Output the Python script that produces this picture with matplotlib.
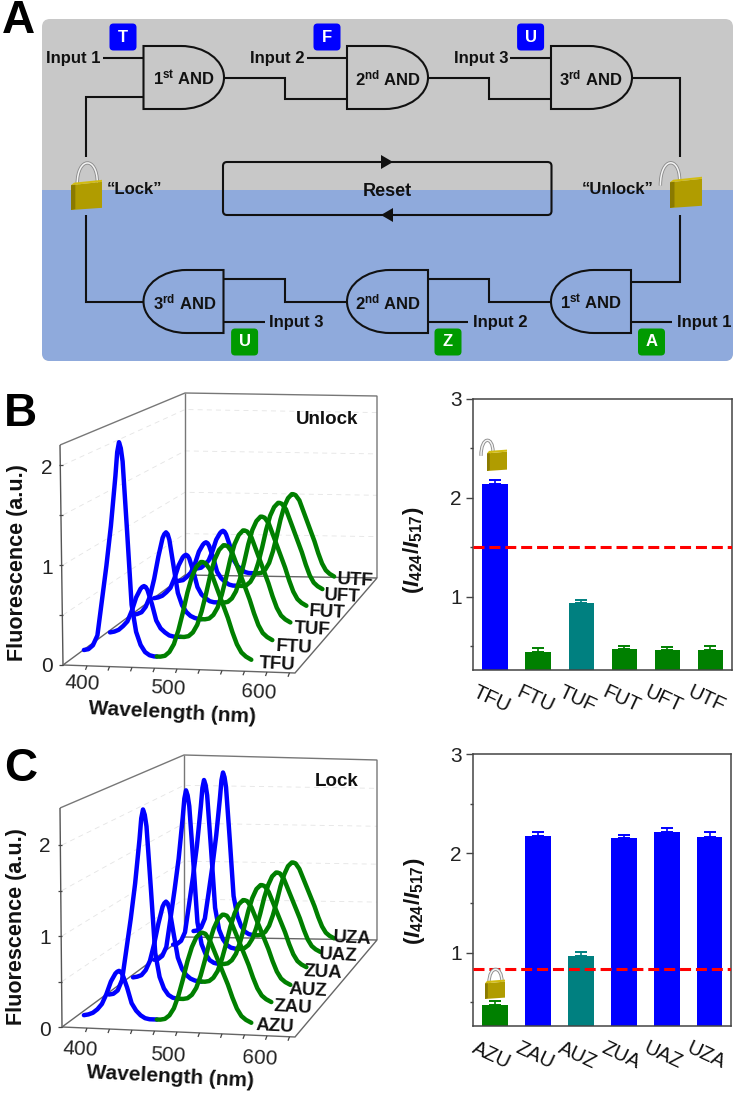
import matplotlib
matplotlib.use("Agg")
import matplotlib.pyplot as plt
from matplotlib.patches import FancyBboxPatch, PathPatch, Polygon, Rectangle
from matplotlib.path import Path
from matplotlib.transforms import Affine2D, ScaledTranslation

plt.rcParams['font.family'] = ['Liberation Sans', 'DejaVu Sans']
plt.rcParams['mathtext.fontset'] = 'custom'
plt.rcParams['mathtext.rm'] = 'Liberation Sans'
plt.rcParams['mathtext.bf'] = 'Liberation Sans:bold'
plt.rcParams['mathtext.it'] = 'Liberation Sans:bold:italic'

#### Data
# bar panels
labels_b = ['TFU', 'FTU', 'TUF', 'FUT', 'UFT', 'UTF']
ratio_b = [2.14, 0.447, 0.936, 0.47, 0.458, 0.465]
err_b = [0.04, 0.04, 0.027, 0.035, 0.037, 0.033]
colors_b = ['blue', 'green', 'teal', 'green', 'green', 'green']
thresh_b = 1.5

labels_c = ['AZU', 'ZAU', 'AUZ', 'ZUA', 'UAZ', 'UZA']
ratio_c = [0.475, 2.17, 0.97, 2.15, 2.21, 2.165]
err_c = [0.04, 0.043, 0.037, 0.03, 0.045, 0.045]
colors_c = ['green', 'blue', 'teal', 'blue', 'blue', 'blue']
thresh_c = 0.836

# spectra, split in the blue and the green part of each trace
wl_blue = [385, 390, 395, 400, 405, 410, 415, 420, 422, 424, 426, 428, 433, 438, 443, 448, 453, 458, 463, 466]
wl_green = [466, 470, 475, 480, 485, 490, 495, 500, 505, 510, 515, 517, 520, 525, 530, 535, 540,
            545, 550, 555, 560, 565, 571]

blue_TFU = [.15, .16, .20, .30, .65, 1.00, 1.40, 1.90, 2.14, 2.24, 2.18, 2.05, 1.35, .62, .35, .22, .15, .12, .11, .11]
blue_FTU = [.13, .14, .16, .20, .25, .36, .50, .59, .61, .62, .61, .58, .44, .27, .19, .15, .12, .11, .11, .11]
blue_TUF = [.13, .14, .16, .22, .33, .52, .76, .96, 1.00, 1.02, 1.00, .94, .66, .38, .25, .18, .14, .12, .11, .11]
blue_FUT = [.13, .14, .16, .20, .25, .36, .50, .59, .61, .62, .61, .58, .44, .27, .19, .15, .12, .11, .11, .11]
blue_UFT = [.13, .14, .15, .19, .24, .34, .48, .56, .58, .59, .58, .55, .42, .26, .19, .15, .12, .11, .11, .11]
blue_UTF = [.13, .14, .15, .19, .24, .35, .49, .57, .59, .60, .59, .56, .43, .26, .19, .15, .12, .11, .11, .11]
green_b = [.11, .11, .12, .16, .24, .38, .56, .76, .92, 1.02, 1.07, 1.07, 1.06, 1.00, .88, .76, .64,
           .52, .38, .26, .18, .14, .11]

blue_AZU = [.13, .14, .16, .20, .26, .37, .51, .60, .62, .63, .62, .59, .45, .28, .20, .15, .12, .11, .11, .11]
blue_ZAU = [.13, .14, .18, .30, .65, 1.00, 1.40, 1.90, 2.14, 2.24, 2.18, 2.05, 1.35, .62, .35, .22, .15, .12, .11, .11]
blue_AUZ = [.13, .14, .16, .22, .33, .53, .77, .97, 1.01, 1.03, 1.01, .95, .66, .38, .25, .18, .14, .12, .11, .11]
blue_ZUA = [.13, .14, .18, .29, .63, .98, 1.36, 1.86, 2.09, 2.19, 2.13, 2.00, 1.32, .60, .34, .22, .15, .12, .11, .11]
blue_UAZ = [.13, .14, .18, .29, .63, .98, 1.37, 1.87, 2.10, 2.20, 2.14, 2.01, 1.33, .61, .34, .22, .15, .12, .11, .11]
blue_UZA = [.13, .14, .18, .30, .64, .99, 1.39, 1.89, 2.12, 2.22, 2.16, 2.03, 1.34, .61, .35, .22, .15, .12, .11, .11]
green_c = [.11, .11, .12, .16, .24, .38, .56, .76, .92, 1.03, 1.08, 1.08, 1.07, 1.00, .88, .76, .64,
           .52, .38, .26, .18, .14, .11]

spectra_b = [blue_TFU, blue_FTU, blue_TUF, blue_FUT, blue_UFT, blue_UTF]
spectra_c = [blue_AZU, blue_ZAU, blue_AUZ, blue_ZUA, blue_UAZ, blue_UZA]

LINE = '#111111'
GOLD = '#b09c00'

fig = plt.figure(figsize=(7.36, 10.96), dpi=100)

# overlay in pixel coordinates for the schematic and the fake 3D boxes
ax = fig.add_axes([0, 0, 1, 1], zorder=5)
ax.set_xlim(0, 736)
ax.set_ylim(1096, 0)
ax.axis('off')


def poly(points, **kw):
    ax.add_patch(Polygon(points, closed=True, **kw))


def wire(xs, ys, lw=1.5, color=LINE):
    ax.plot(xs, ys, color=color, lw=lw, solid_capstyle='butt', solid_joinstyle='miter')


def and_gate(x0, x1, top, bot, flip=False):
    # flat side at x0, round side towards x1
    r = 43 if not flip else -43
    ym = (top + bot) / 2
    k = 0.5523
    hh = (bot - top) / 2
    xa = x1 - r
    verts = [(x0, top), (xa, top), (xa + k * r, top), (x1, ym - k * hh), (x1, ym),
             (x1, ym + k * hh), (xa + k * r, bot), (xa, bot), (x0, bot), (x0, top)]
    codes = [Path.MOVETO, Path.LINETO, Path.CURVE4, Path.CURVE4, Path.CURVE4,
             Path.CURVE4, Path.CURVE4, Path.CURVE4, Path.LINETO, Path.CLOSEPOLY]
    ax.add_patch(PathPatch(Path(verts, codes), fill=False, ec=LINE, lw=1.5))


def badge(x, y, letter, color):
    ax.add_patch(FancyBboxPatch((x - 10, y - 10), 20, 20, boxstyle='round,pad=3.5,rounding_size=4',
                                fc=color, ec='none'))
    ax.text(x, y, letter, color='white', fontsize=12, fontweight='bold', ha='center', va='center')


def padlock(x, y, w, h, opened=False, z=6):
    # x, y is the top left of the body
    tilt = 0.07 * w
    if opened:
        sx0, sx1, top = x - 0.3 * w, x + 0.3 * w, y - 0.85 * h
        sy0, sy1 = y + 0.2 * h, y
    else:
        sx0, sx1, top = x + 0.2 * w, x + 0.85 * w, y - 1.0 * h
        sy0, sy1 = y + 0.05 * h, y
    verts = [(sx0, sy0), (sx0, top), (sx1, top), (sx1, sy1)]
    codes = [Path.MOVETO, Path.CURVE4, Path.CURVE4, Path.CURVE4]
    ax.add_patch(PathPatch(Path(verts, codes), fill=False, ec='#8c8c8c', lw=2.4, zorder=z))
    ax.add_patch(PathPatch(Path(verts, codes), fill=False, ec='#f4f4f4', lw=1.1, zorder=z))
    poly([(x, y + tilt), (x + w, y - tilt + 1), (x + w, y + h - tilt), (x, y + h)], fc=GOLD, ec='none', zorder=z)
    poly([(x, y + tilt), (x + 0.14 * w, y + tilt - 1), (x + 0.14 * w, y + h - 1), (x, y + h)],
         fc='#8a7a00', ec='none', zorder=z)
    poly([(x, y + tilt), (x + 0.1 * w, y + tilt - 2.5), (x + w, y - tilt - 1), (x + w, y - tilt + 1)],
         fc='#d2bc10', ec='none', zorder=z)


#### Panel A
ax.add_patch(FancyBboxPatch((50, 27), 675, 326, boxstyle='round,pad=8,rounding_size=8',
                            fc='#c8c8c8', ec='none', zorder=0))
blue_bg = FancyBboxPatch((50, 27), 675, 326, boxstyle='round,pad=8,rounding_size=8',
                         fc='#8faadc', ec='none', zorder=0)
ax.add_patch(blue_bg)
blue_bg.set_clip_path(Rectangle((0, 190), 736, 300, transform=ax.transData))

ax.text(2, 21, 'A', fontsize=33, fontweight='bold', ha='left', va='center', color='black')
ax.text(4, 414, 'B', fontsize=33, fontweight='bold', ha='left', va='center', color='black')
ax.text(4, 769, 'C', fontsize=33, fontweight='bold', ha='left', va='center', color='black')

top_gates = [(143.5, 224), (347, 428), (551, 632)]
bot_gates = [(223.5, 143.5), (428, 347), (631, 551)]
for x0, x1 in top_gates:
    and_gate(x0, x1, 46, 109)
for x0, x1 in bot_gates:
    and_gate(x0, x1, 270, 333, flip=True)

wire([102.5, 143.5], [58, 58])
wire([307, 347], [58, 58])
wire([510, 551], [58, 58])
wire([224, 284.6, 284.6, 347], [78, 78, 99, 99])
wire([428, 489, 489, 551], [78, 78, 99, 99])
wire([632, 680, 680], [78, 78, 157])
wire([143.5, 86, 86], [97, 97, 157])
wire([86, 86, 143.5], [215, 302, 302])
wire([223.5, 284.6, 284.6, 347], [279, 279, 302, 302])
wire([428, 489, 489, 551], [279, 279, 302, 302])
wire([631, 680, 680], [282, 282, 215])
wire([223.5, 265], [322, 322])
wire([428, 468], [322, 322])
wire([631, 672], [322, 322])

for x, s in [(100, 'Input 1'), (304, 'Input 2'), (508, 'Input 3')]:
    ax.text(x, 58, s, fontsize=12, fontweight='bold', ha='right', va='center', color=LINE)
for x, s in [(269, 'Input 3'), (473, 'Input 2'), (677, 'Input 1')]:
    ax.text(x, 322, s, fontsize=12, fontweight='bold', ha='left', va='center', color=LINE)

gate_text = [(184.4, 78, r'1$^{\mathbf{st}}$ AND'), (388, 78, r'2$^{\mathbf{nd}}$ AND'), (591, 78, r'3$^{\mathbf{rd}}$ AND'),
             (184.4, 302, r'3$^{\mathbf{rd}}$ AND'), (388, 302, r'2$^{\mathbf{nd}}$ AND'), (591, 302, r'1$^{\mathbf{st}}$ AND')]
for x, y, s in gate_text:
    ax.text(x, y, s, fontsize=12, fontweight='bold', ha='center', va='center', color=LINE)

for x, y, s in [(123, 37, 'T'), (327, 37, 'F'), (530.6, 37, 'U')]:
    badge(x, y, s, '#0000ff')
for x, y, s in [(244.6, 342, 'U'), (448, 342, 'Z'), (651.5, 342, 'A')]:
    badge(x, y, s, '#009a00')

ax.add_patch(FancyBboxPatch((227, 166), 320.5, 45, boxstyle='round,pad=4,rounding_size=4',
                            fill=False, ec=LINE, lw=1.5))
poly([(381, 155), (393, 162), (381, 169)], fc=LINE, ec='none')
poly([(393, 208), (381, 215), (393, 222)], fc=LINE, ec='none')
ax.text(387, 191, 'Reset', fontsize=13, fontweight='bold', ha='center', va='center', color=LINE)
ax.text(135, 190, '\u201cLock\u201d', fontsize=12, fontweight='bold', ha='center', va='center', color=LINE)
ax.text(617.6, 190, '\u201cUnlock\u201d', fontsize=12, fontweight='bold', ha='center', va='center', color=LINE)
padlock(71, 183, 31, 27)
padlock(670, 180, 32, 28, opened=True)


#### Panels B and C: fake 3D waterfall built from per-trace transforms
def waterfall(spectra, green, names, unit, base_y, corners, peak_x, base_ys, scales, label_pos,
              xlab_pos, xticks_pos, ylab_pos, ytick_pos, word, word_pos):
    fl, fr, bl, br, tl, tbl, tbr = corners
    back_unit = (bl[1] - tbl[1]) / 2.4 if unit < 95 else (bl[1] - tbl[1]) / 2.2

    # faint grid on the walls
    for f in [0.5, 1, 1.5, 2]:
        wire([fl[0], bl[0], br[0]], [fl[1] - unit * f, bl[1] - back_unit * f, br[1] - back_unit * f],
             lw=0.6, color='#e4e4e4')
        ax.lines[-1].set_linestyle((0, (6, 5)))

    # box
    wire([tl[0], tbl[0], tbr[0], br[0]], [tl[1], tbl[1], tbr[1], br[1]], lw=1.0, color='#777777')
    wire([tbl[0], bl[0]], [tbl[1], bl[1]], lw=1.0, color='#777777')
    wire([tl[0], fl[0]], [tl[1], fl[1]], lw=1.0, color='#555555')
    wire([fl[0], fr[0], br[0], bl[0], fl[0]], [fl[1], fr[1], br[1], bl[1], fl[1]], lw=1.0, color='#666666')

    # axis ticks
    for f in [0, 0.5, 1, 1.5, 2]:
        wire([fl[0] - 4, fl[0]], [fl[1] - unit * f, fl[1] - unit * f], lw=0.9, color='#444444')
    slope = (fr[1] - fl[1]) / (fr[0] - fl[0])
    for w in range(400, 626, 25):
        x = 87 + (w - 400) * 0.9
        y = fl[1] + (x - fl[0]) * slope
        wire([x, x - 1.5], [y, y + 4], lw=0.9, color='#444444')

    # traces, back one first
    for i in range(5, -1, -1):
        s = scales[i]
        tr = Affine2D.from_values(0.9 * s, 0.031, 0, -unit * s,
                                  peak_x[i] - 0.9 * s * 424, base_ys[i] - 0.031 * 385) + ax.transData
        ax.plot(wl_blue, spectra[i], color='#0000ff', lw=3.2, transform=tr, solid_capstyle='round',
                solid_joinstyle='round', zorder=3)
        ax.plot(wl_green, green, color='#007f00', lw=3.2, transform=tr, solid_capstyle='round',
                solid_joinstyle='round', zorder=3)

    for (x, y), s in zip(label_pos, names):
        ax.text(x, y, s, fontsize=13.5, fontweight='bold', ha='center', va='center', rotation=-3,
                color='#111111', zorder=4)
    for (x, y), s in zip(xticks_pos, ['400', '500', '600']):
        ax.text(x, y, s, fontsize=15, ha='center', va='center', rotation=-3, color='#222222')
    for (x, y), s in zip(ytick_pos, ['0', '1', '2']):
        ax.text(x, y, s, fontsize=15, ha='center', va='center', color='#222222')
    ax.text(xlab_pos[0], xlab_pos[1], 'Wavelength (nm)', fontsize=15, fontweight='bold', ha='center',
            va='center', rotation=-3, color='#111111')
    ax.text(ylab_pos[0], ylab_pos[1], 'Fluorescence (a.u.)', fontsize=15.5, fontweight='bold', ha='center',
            va='center', rotation=90, color='#111111')
    ax.text(word_pos[0], word_pos[1], word, fontsize=13.5, fontweight='bold', ha='center', va='center',
            color='#111111')


waterfall(spectra_b, green_b, labels_b, 100, 665,
          [(63, 665), (295, 673), (185, 575), (377, 578), (60, 445), (185, 393), (377, 396)],
          [119, 144, 166, 186, 206, 223], [665, 645, 627, 610, 593, 580], [1, .97, .94, .91, .88, .84],
          [(277, 664), (294, 647), (312, 629), (327, 612), (342, 596), (355, 580)],
          (172, 713), [(82, 683), (168, 688), (259, 692)], (18, 563),
          [(47, 667), (47, 568), (47, 468)], 'Unlock', (327, 419))

waterfall(spectra_c, green_c, labels_c, 91, 1027,
          [(62, 1027), (295, 1037), (184, 937), (377, 940), (60, 808), (184, 755), (377, 760)],
          [119, 143, 166, 186, 204, 223], [1027, 1006, 988.5, 970.5, 955, 941], [1, .97, .94, .91, .88, .84],
          [(275, 1027), (293, 1008), (308, 991), (323, 973), (338, 956), (352, 939)],
          (170, 1077), [(80, 1049), (168, 1055), (260, 1058)], (17, 927),
          [(45, 1030), (45, 939), (45, 847)], 'Lock', (337, 782))


#### Bar panels
def bar_panel(rect, labels, vals, errs, colors, thresh):
    a = fig.add_axes(rect)
    pos = list(range(len(labels)))
    a.bar(pos, vals, width=0.6, color=colors)
    for p, v, e, c in zip(pos, vals, errs, colors):
        a.errorbar(p, v, yerr=[[0], [e]], color=c, capsize=4, elinewidth=1.2, capthick=1.4)
    a.axhline(thresh, color='red', lw=2.2, ls=(0, (3.6, 1.6)), zorder=4)
    a.set_xlim(-0.52, 5.5)
    a.set_ylim(0.26, 3)
    a.set_yticks([1, 2, 3])
    a.set_yticks([0.5, 1.5, 2.5], minor=True)
    a.set_xticks(pos)
    a.set_xticklabels(labels, rotation=-25, fontsize=14.5, color='#111111')
    a.tick_params(axis='x', length=0, pad=9)
    shift = ScaledTranslation(-3.5 / 100, 0, fig.dpi_scale_trans)
    for t in a.get_xticklabels():
        t.set_transform(t.get_transform() + shift)
    a.tick_params(axis='y', which='major', length=5, width=1, color='#444444', labelsize=15, pad=3,
                  labelcolor='#222222')
    a.tick_params(axis='y', which='minor', length=2.5, width=1, color='#444444')
    for sp in a.spines.values():
        sp.set_color('#444444')
        sp.set_linewidth(1.1)
    a.set_ylabel(r'$\mathbf{(}\mathit{I}_{\mathbf{424}}\mathbf{/}\mathit{I}_{\mathbf{517}}\mathbf{)}$',
                 fontsize=16, color='#111111')
    a.yaxis.set_label_coords(-0.18, 0.44 if thresh > 1 else 0.46)
    return a


bar_panel([473 / 736, 1 - 670 / 1096, 259 / 736, 271 / 1096], labels_b, ratio_b, err_b, colors_b, thresh_b)
bar_panel([473 / 736, 1 - 1026 / 1096, 258 / 736, 272 / 1096], labels_c, ratio_c, err_c, colors_c, thresh_c)

padlock(487, 452, 20, 19, opened=True)
padlock(485, 982, 20, 17)

plt.savefig('out.png', dpi=100)
